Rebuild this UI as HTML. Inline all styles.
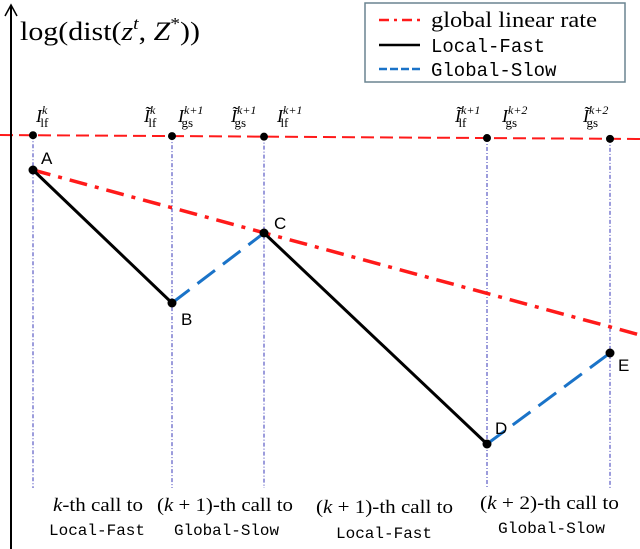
<!DOCTYPE html>
<html><head><meta charset="utf-8"><style>
body{margin:0;background:#fff;}
svg{display:block;}
.serif{font-family:"Liberation Serif",serif;}
.mono{font-family:"Liberation Mono",monospace;}
.sans{font-family:"Liberation Sans",sans-serif;}
</style></head><body>
<svg id="chart" width="640" height="549" viewBox="0 0 640 549" xmlns="http://www.w3.org/2000/svg">
<g id="guides"></g>
<line x1="0" y1="135" x2="640" y2="139" stroke="#ff1a1a" stroke-width="2" stroke-dasharray="13,6"/>
<line x1="11" y1="549" x2="11" y2="6" stroke="#000" stroke-width="2"/>
<path d="M5,16 L11,5 L17,16" fill="none" stroke="#000" stroke-width="1.5"/>
<text x="20" y="40" class="serif" font-size="26" textLength="180" lengthAdjust="spacingAndGlyphs">log(dist(<tspan font-style="italic">z</tspan><tspan font-size="17" dy="-11" font-style="italic">t</tspan><tspan dy="11">, </tspan><tspan font-style="italic">Z</tspan><tspan font-size="17" dy="-11">*</tspan><tspan dy="11">))</tspan></text>
<g id="marks"></g>
<g>
<rect x="365" y="3" width="260" height="79" fill="#fff" stroke="#6a8490" stroke-width="1.5"/>
<line x1="379" y1="20" x2="420" y2="20" stroke="#ff1a1a" stroke-width="2.5" stroke-dasharray="10,5,3,5"/>
<text x="431" y="27" class="serif" font-size="22" textLength="166" lengthAdjust="spacingAndGlyphs">global linear rate</text>
<line x1="379" y1="45" x2="420" y2="45" stroke="#000" stroke-width="2.5"/>
<text x="431" y="52" class="mono" font-size="19">Local-Fast</text>
<line x1="379" y1="69" x2="420" y2="69" stroke="#1a73c8" stroke-width="2.5" stroke-dasharray="8,3"/>
<text x="431" y="76" class="mono" font-size="19">Global-Slow</text>
</g>
<g class="serif" font-size="18">
<text x="36" y="122" font-style="italic">I<tspan font-size="12" dy="-8">k</tspan><tspan font-size="13" dx="-7" dy="13" font-style="normal">lf</tspan></text>
<text x="144" y="122" font-style="italic">Ĩ<tspan font-size="12" dy="-8">k</tspan><tspan font-size="13" dx="-7" dy="13" font-style="normal">lf</tspan></text>
<text x="178" y="122" font-style="italic">I<tspan font-size="12" dy="-8">k+1</tspan><tspan font-size="13" dx="-22" dy="13" font-style="normal">gs</tspan></text>
<text x="231" y="122" font-style="italic">Ĩ<tspan font-size="12" dy="-8">k+1</tspan><tspan font-size="13" dx="-22" dy="13" font-style="normal">gs</tspan></text>
<text x="277" y="122" font-style="italic">I<tspan font-size="12" dy="-8">k+1</tspan><tspan font-size="13" dx="-22" dy="13" font-style="normal">lf</tspan></text>
<text x="455" y="122" font-style="italic">Ĩ<tspan font-size="12" dy="-8">k+1</tspan><tspan font-size="13" dx="-22" dy="13" font-style="normal">lf</tspan></text>
<text x="502" y="122" font-style="italic">I<tspan font-size="12" dy="-8">k+2</tspan><tspan font-size="13" dx="-22" dy="13" font-style="normal">gs</tspan></text>
<text x="583" y="122" font-style="italic">Ĩ<tspan font-size="12" dy="-8">k+2</tspan><tspan font-size="13" dx="-22" dy="13" font-style="normal">gs</tspan></text>
</g>
<g>
<text x="53" y="511" class="serif" font-size="19" textLength="90" lengthAdjust="spacingAndGlyphs"><tspan font-style="italic">k</tspan>-th call to</text>
<text x="49" y="535" class="mono" font-size="16" textLength="96" lengthAdjust="spacingAndGlyphs">Local-Fast</text>
<text x="157" y="511" class="serif" font-size="19" textLength="136" lengthAdjust="spacingAndGlyphs">(<tspan font-style="italic">k</tspan> + 1)-th call to</text>
<text x="174" y="535" class="mono" font-size="16" textLength="105" lengthAdjust="spacingAndGlyphs">Global-Slow</text>
<text x="316" y="513" class="serif" font-size="19" textLength="137" lengthAdjust="spacingAndGlyphs">(<tspan font-style="italic">k</tspan> + 1)-th call to</text>
<text x="336" y="538" class="mono" font-size="16" textLength="96" lengthAdjust="spacingAndGlyphs">Local-Fast</text>
<text x="480" y="509" class="serif" font-size="19" textLength="139" lengthAdjust="spacingAndGlyphs">(<tspan font-style="italic">k</tspan> + 2)-th call to</text>
<text x="498" y="533" class="mono" font-size="16" textLength="107" lengthAdjust="spacingAndGlyphs">Global-Slow</text>
</g>
</svg>
<script>
const pointLabels = ["A","B","C","D","E"];
const iterations = [0, 13.9, 23.1, 45.4, 57.7];
const logDist = [-3.5, -16.8, -9.8, -30.9, -21.8];
const rateEnd = [60.7, -20.0];
const guideIters = [0, 13.9, 23.1, 45.4, 57.7];

const NS = "http://www.w3.org/2000/svg";
const xS = t => 33 + t * 10;
const yS = v => 135 - v * 10;
const topY = t => 135 + xS(t) * 4 / 640;
const marks = document.getElementById("marks");
const guides = document.getElementById("guides");
function mk(tag, attrs, parent){const e=document.createElementNS(NS,tag);for(const k in attrs)e.setAttribute(k,attrs[k]);parent.appendChild(e);return e;}

guideIters.forEach((t,i)=>{
  const l = mk("line",{x1:xS(t),x2:xS(t),y1:topY(t),y2:488,stroke:"#3a3ab8","stroke-width":1,"stroke-dasharray":"4,2,1,2"},guides);
  
  
  const d = mk("circle",{cx:xS(t),cy:topY(t),r:4,fill:"#000"},marks);
  
  
});

const rate = mk("line",{x1:xS(iterations[0]),y1:yS(logDist[0]),x2:xS(rateEnd[0]),y2:yS(rateEnd[1]),stroke:"#ff1a1a","stroke-width":3.5,"stroke-dasharray":"18,8,4,8"},marks);



for(let i=0;i<iterations.length-1;i++){
  const fast = i%2===0;
  const seg = mk("line",{x1:xS(iterations[i]),y1:yS(logDist[i]),x2:xS(iterations[i+1]),y2:yS(logDist[i+1]),stroke:fast?"#000":"#1a73c8","stroke-width":3},marks);
  if(!fast) seg.setAttribute("stroke-dasharray","22,10");
  
  
}
const offs = [[8,-6],[9,22],[10,-4],[8,-10],[8,18]];
iterations.forEach((t,i)=>{
  const c = mk("circle",{cx:xS(t),cy:yS(logDist[i]),r:4.5,fill:"#000"},marks);
  
  
  const tx = mk("text",{x:xS(t)+offs[i][0],y:yS(logDist[i])+offs[i][1],"font-size":17,"font-family":"Liberation Sans, sans-serif"},marks);
  tx.textContent = pointLabels[i];
  
  
});
</script>
</body></html>
